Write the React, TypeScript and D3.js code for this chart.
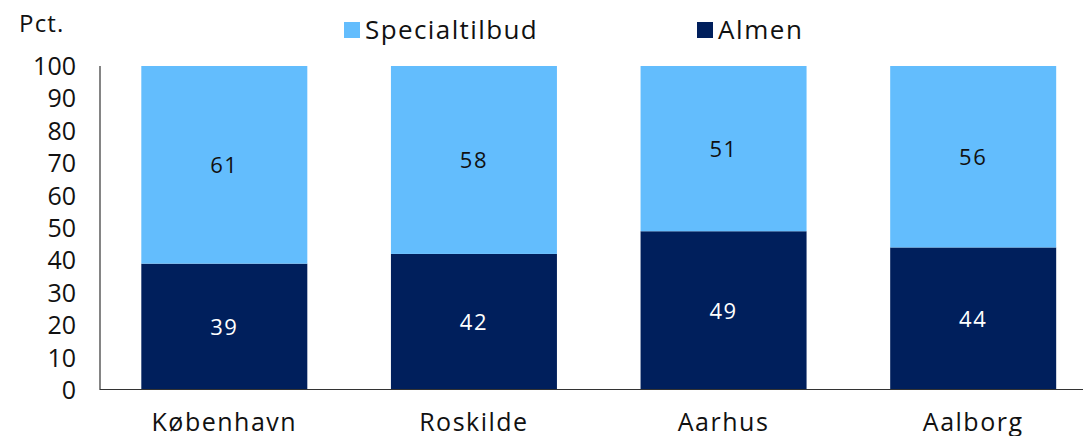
import React from "react";
import * as d3 from "d3";

const categories = ["København", "Roskilde", "Aarhus", "Aalborg"];
const almen = [39, 42, 49, 44];
const specialtilbud = [61, 58, 51, 56];
const yTicks = [0, 10, 20, 30, 40, 50, 60, 70, 80, 90, 100];

const W = 1083;
const H = 436;
const FONT = "'Open Sans', 'Noto Sans', sans-serif";
const LIGHT = "#63BDFD";
const DARK = "#001F5C";

export default function App() {
  const x = d3.scaleBand<string>().domain(categories).range([99.5, 1098]).paddingInner(0.335).paddingOuter(0.1675);
  const y = d3.scaleLinear().domain([0, 100]).range([390, 66]);
  const stack = d3.stack<any>().keys(["almen", "special"]);
  const rows = categories.map((c, i) => ({ cat: c, almen: almen[i], special: specialtilbud[i] }));
  const series = stack(rows);
  const colors = [DARK, LIGHT];
  const textColors = ["#ffffff", "#111111"];

  return (
    <svg width={W} height={H} style={{ position: "absolute", left: 0, top: 0, fontFamily: FONT }}>
      <rect x={0} y={0} width={W} height={H} fill="#ffffff" />
      {series.map((s, si) =>
        s.map((d, i) => (
          <g key={`${si}-${i}`}>
            <rect
              x={x(categories[i])}
              y={y(d[1])}
              width={x.bandwidth()}
              height={y(d[0]) - y(d[1])}
              fill={colors[si]}
            />
            <text
              x={(x(categories[i]) as number) + x.bandwidth() / 2}
              y={(y(d[0]) + y(d[1])) / 2}
              dy="0.36em"
              textAnchor="middle"
              fontSize={22}
              letterSpacing={1.5}
              fill={textColors[si]}
            >
              {(d[1] - d[0]).toString()}
            </text>
          </g>
        ))
      )}
      <line x1={100} x2={100} y1={66} y2={390} stroke="#333" strokeWidth={1.2} />
      <line x1={100} x2={W} y1={389.5} y2={389.5} stroke="#333" strokeWidth={1.2} />
      {yTicks.map((t) => (
        <text key={t} x={76} y={y(t)} dy="0.36em" textAnchor="end" fontSize={25} fill="#111">
          {t}
        </text>
      ))}
      {categories.map((c) => (
        <text
          key={c}
          x={(x(c) as number) + x.bandwidth() / 2}
          y={431}
          textAnchor="middle"
          fontSize={25}
          letterSpacing={1.5}
          fill="#111"
        >
          {c}
        </text>
      ))}
      <text x={19} y={32} fontSize={24} letterSpacing={1.2} fill="#111">Pct.</text>
      <rect x={344} y={22} width={16} height={16} fill={LIGHT} />
      <text x={365} y={39} fontSize={26} letterSpacing={1.4} fill="#111">Specialtilbud</text>
      <rect x={697} y={22} width={16} height={16} fill={DARK} />
      <text x={718} y={39} fontSize={26} letterSpacing={1.6} fill="#111">Almen</text>
    </svg>
  );
}
